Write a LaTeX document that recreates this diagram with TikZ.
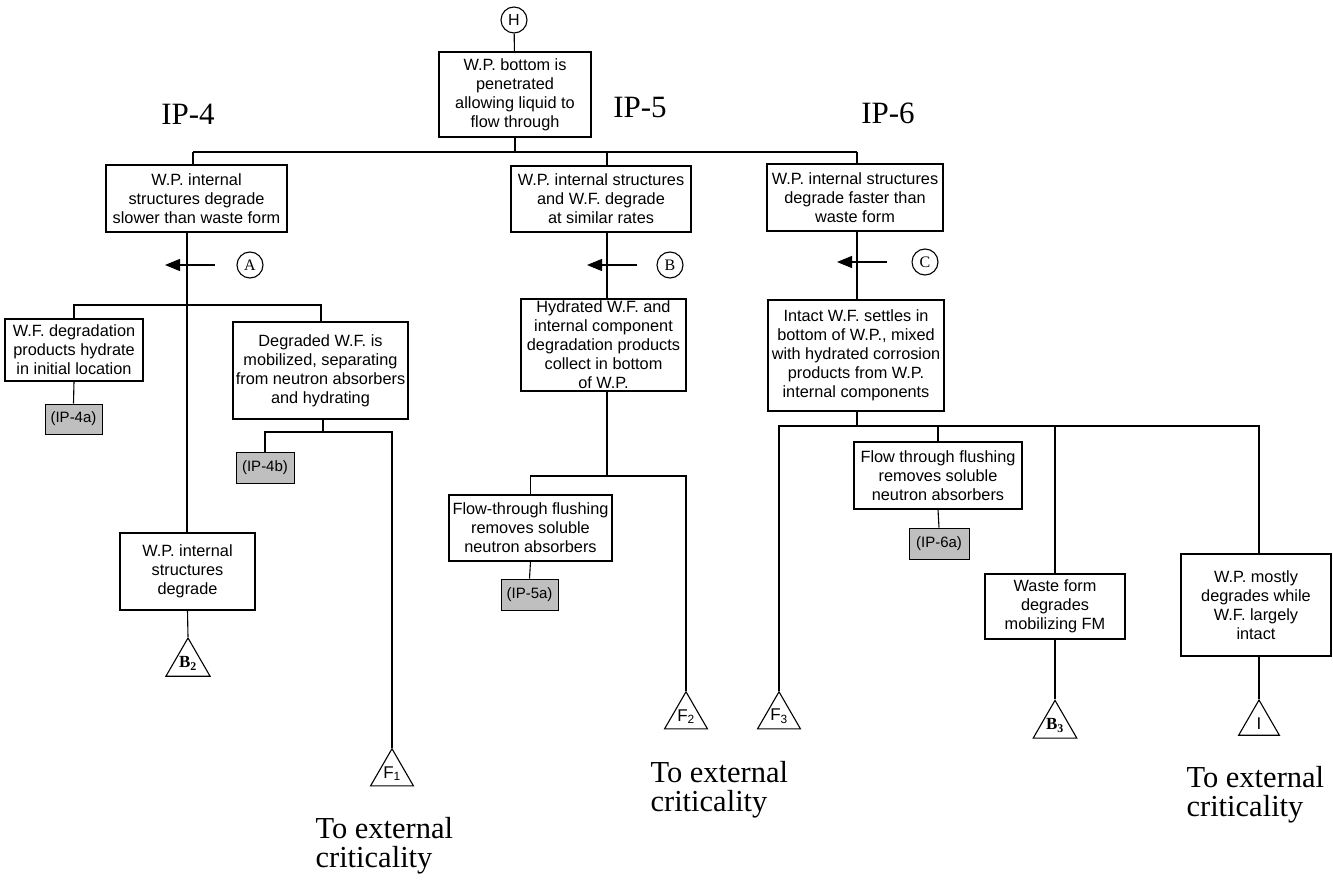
\documentclass[tikz,border=0pt]{standalone}
\usepackage{fontspec}
\setmainfont{Liberation Serif}
\setsansfont{Liberation Sans}
\usetikzlibrary{arrows.meta,shapes.geometric}
\begin{document}
\begin{tikzpicture}[x=1pt,y=-1pt,
  line width=1.1pt,
  box/.style={draw, line width=1.2pt, align=center, inner sep=2pt, font=\sffamily\fontsize{16.3}{19}\selectfont},
  tag/.style={draw, fill=gray!50, line width=1pt, inner sep=0pt, font=\sffamily\fontsize{15}{16}\selectfont},
  circ/.style={draw, circle, minimum size=26pt, inner sep=0pt, line width=1.1pt},
  tri/.style={draw, regular polygon, regular polygon sides=3, inner sep=0pt, minimum size=47pt, line width=1.1pt},
  trisans/.style={font=\sffamily\fontsize{17}{17}\selectfont},
  triserif/.style={font=\bfseries\fontsize{17}{17}\selectfont},
  iplab/.style={font=\fontsize{31}{33}\selectfont, inner sep=0pt},
  ext/.style={font=\fontsize{30.5}{29}\selectfont, align=left, inner sep=0pt, anchor=north west},
  arr/.style={-{Triangle[length=15pt,width=12pt]}, line width=1.1pt}
]
\useasboundingbox (0,0) rectangle (1333,885);

% top
\node[circ, font=\sffamily\fontsize{16}{16}\selectfont] (H) at (514,20) {H};
\node[box, minimum width=152pt, minimum height=85pt] (top) at (515,94.5) {W.P. bottom is\\penetrated\\allowing liquid to\\flow through};

\node[iplab] (lab4) at (188,114) {IP-4};
\node[iplab] (lab5) at (640,108) {IP-5};
\node[iplab] (lab6) at (888,113) {IP-6};

% level 1
\node[box, minimum width=181pt, minimum height=67pt] (ip4) at (196.5,198.5) {W.P. internal\\structures degrade\\slower than waste form};
\node[box, minimum width=180pt, minimum height=66pt] (ip5) at (601,199) {W.P. internal structures\\and W.F. degrade\\at similar rates};
\node[box, minimum width=176pt, minimum height=67pt] (ip6) at (855,197.5) {W.P. internal structures\\degrade faster than\\waste form};

% circles
\node[circ, font=\fontsize{16}{16}\selectfont] (cA) at (250,265) {A};
\node[circ, font=\fontsize{16}{16}\selectfont] (cB) at (670,265) {B};
\node[circ, font=\fontsize{16}{16}\selectfont] (cC) at (925,262) {C};

% IP-4 branch
\node[box, minimum width=138pt, minimum height=62pt] (wfdeg) at (74,350) {W.F. degradation\\products hydrate\\in initial location};
\node[box, minimum width=175pt, minimum height=97pt] (degr) at (320.5,370.5) {Degraded W.F. is\\mobilized, separating\\from neutron absorbers\\and hydrating};
\node[box, minimum width=135pt, minimum height=77pt] (wpint) at (187.5,571.5) {W.P. internal\\structures\\degrade};
\node[tag, minimum width=57pt, minimum height=30pt] (ip4a) at (73.5,419) {(IP-4a)};
\node[tag, minimum width=58pt, minimum height=31pt] (ip4b) at (265,467.5) {(IP-4b)};
\node[tri, triserif, minimum size=51pt] (b2) at (188,663.5) {B\textsubscript{2}};
\node[tri, trisans] (f1) at (392,773.5) {F\textsubscript{1}};

% IP-5 branch
\node[box, minimum width=165pt, minimum height=90pt] (hyd) at (603.5,345) {Hydrated W.F. and\\internal component\\degradation products\\collect in bottom\\of W.P.};
\node[box, minimum width=163pt, minimum height=66pt] (flow5) at (530.5,528) {Flow-through flushing\\removes soluble\\neutron absorbers};
\node[tag, minimum width=57pt, minimum height=31pt] (ip5a) at (529.5,594.5) {(IP-5a)};
\node[tri, trisans] (f2) at (686,716.5) {F\textsubscript{2}};

% IP-6 branch
\node[box, minimum width=176pt, minimum height=111pt] (intact) at (856,355.5) {Intact W.F. settles in\\bottom of W.P., mixed\\with hydrated corrosion\\products from W.P.\\internal components};
\node[box, minimum width=168pt, minimum height=67pt] (flow6) at (938,475.5) {Flow through flushing\\removes soluble\\neutron absorbers};
\node[tag, minimum width=60pt, minimum height=31pt] (ip6a) at (939,543.5) {(IP-6a)};
\node[box, minimum width=140pt, minimum height=65pt] (waste) at (1055,606.5) {Waste form\\degrades\\mobilizing FM};
\node[box, minimum width=150pt, minimum height=102pt] (mostly) at (1256,605) {W.P. mostly\\degrades while\\W.F. largely\\intact};
\node[tri, trisans] (f3) at (779,716.5) {F\textsubscript{3}};
\node[tri, triserif] (b3) at (1055,725.5) {B\textsubscript{3}};
\node[tri, trisans] (itri) at (1259,723.5) {I};

% texts
\node[ext] (ext1) at (315,817) {To external\\criticality};
\node[ext] (ext2) at (650,761) {To external\\criticality};
\node[ext] (ext3) at (1186,766) {To external\\criticality};

% coordinates
\coordinate (busL) at (193,152);
\coordinate (busR) at (857,152);
\coordinate (busM) at (607,152);
\coordinate (busT) at (515,152);
\coordinate (v4) at (187,0);
\coordinate (s4R) at (321,305);
\coordinate (j4bR) at (392,432);
\coordinate (v5) at (607,0);
\coordinate (j5R) at (686,476);
\coordinate (v6) at (857,0);
\coordinate (j6R) at (1259,426);
\coordinate (aT) at (215,265);
\coordinate (aH) at (165,265);
\coordinate (bT) at (637,265);
\coordinate (bH) at (587,265);
\coordinate (cT) at (887,262);
\coordinate (cH) at (837,262);

% connectors
\draw (H) -- (top);
\draw (top.south) -- (busT);
\draw (busL) -- (busR);
\draw (busL) -- (busL |- ip4.north);
\draw (busM) -- (busM |- ip5.north);
\draw (busR) -- (busR |- ip6.north);

\draw (ip4.south -| v4) -- (wpint.north -| v4);
\draw (wfdeg.north) |- (s4R) -- (s4R |- degr.north);
\draw (wfdeg.south) -- (ip4a.north);
\draw (degr.south -| 323,0) -- (323,432);
\draw (ip4b.north) |- (j4bR) -- (f1.corner 1);
\draw (wpint.south) -- (b2.corner 1);

\draw (ip5.south -| v5) -- (hyd.north -| v5);
\draw (hyd.south -| v5) -- (v5 |- j5R);
\draw (flow5.north) |- (j5R) -- (f2.corner 1);
\draw (flow5.south) -- (ip5a.north);

\draw (ip6.south -| v6) -- (intact.north -| v6);
\draw (intact.south -| v6) -- (v6 |- j6R);
\draw (f3.corner 1) |- (j6R) -- (j6R |- mostly.north);
\draw (flow6.north) -- (flow6.north |- j6R);
\draw (waste.north) -- (waste.north |- j6R);
\draw (flow6.south) -- (ip6a.north);
\draw (waste.south) -- (b3.corner 1);
\draw (mostly.south -| itri.corner 1) -- (itri.corner 1);

% arrows
\draw[arr] (aT) -- (aH);
\draw[arr] (bT) -- (bH);
\draw[arr] (cT) -- (cH);
\end{tikzpicture}
\end{document}
